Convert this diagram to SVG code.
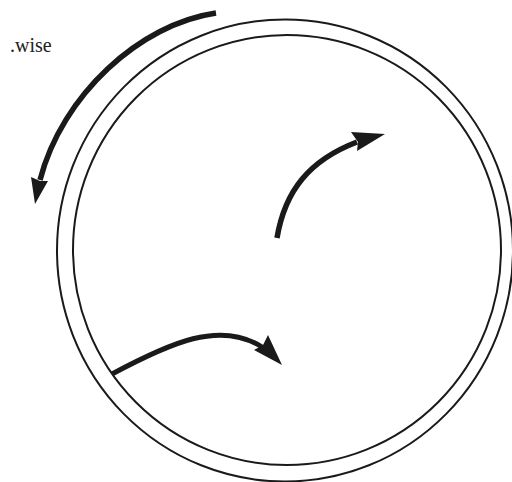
<svg xmlns="http://www.w3.org/2000/svg" width="512" height="482" viewBox="0 0 512 482">
<style>
.ring{fill:none;stroke:#1a1a1a;stroke-width:2}
.arc{fill:none;stroke:#1a1a1a;stroke-width:5;stroke-linecap:butt}
.head{fill:#1a1a1a}
.lbl{font-family:"Liberation Serif","Times New Roman",serif;font-size:20px;fill:#222}
</style>
<rect width="512" height="482" fill="#fff"/>
<g id="rings">
<ellipse class="ring" cx="285" cy="250.5" rx="228" ry="231"/>
<ellipse class="ring" cx="287" cy="250" rx="214" ry="215"/>
</g>
<g id="label"><text class="lbl" x="10" y="52">.wise</text></g>
<g id="connectors">
<g id="outer-arrow">
<path class="arc" d="M216,13 C140,24 62,95 40,180" style="stroke-width:5.5"/>
<polygon class="head" points="35,204 31,177 40,181 48,181"/>
</g>
<g id="center-arrow">
<path class="arc" d="M277,238 C285,190 310,160 357,142" style="stroke-width:5.5"/>
<polygon class="head" points="385,134 351,132 358,142 357,151"/>
</g>
<g id="bottom-arrow">
<path class="arc" d="M112,374 C170,343 220,320 262,347"/>
<polygon class="head" points="282,365 254,350 263,345 268,335"/>
</g>
</g>
</svg>
